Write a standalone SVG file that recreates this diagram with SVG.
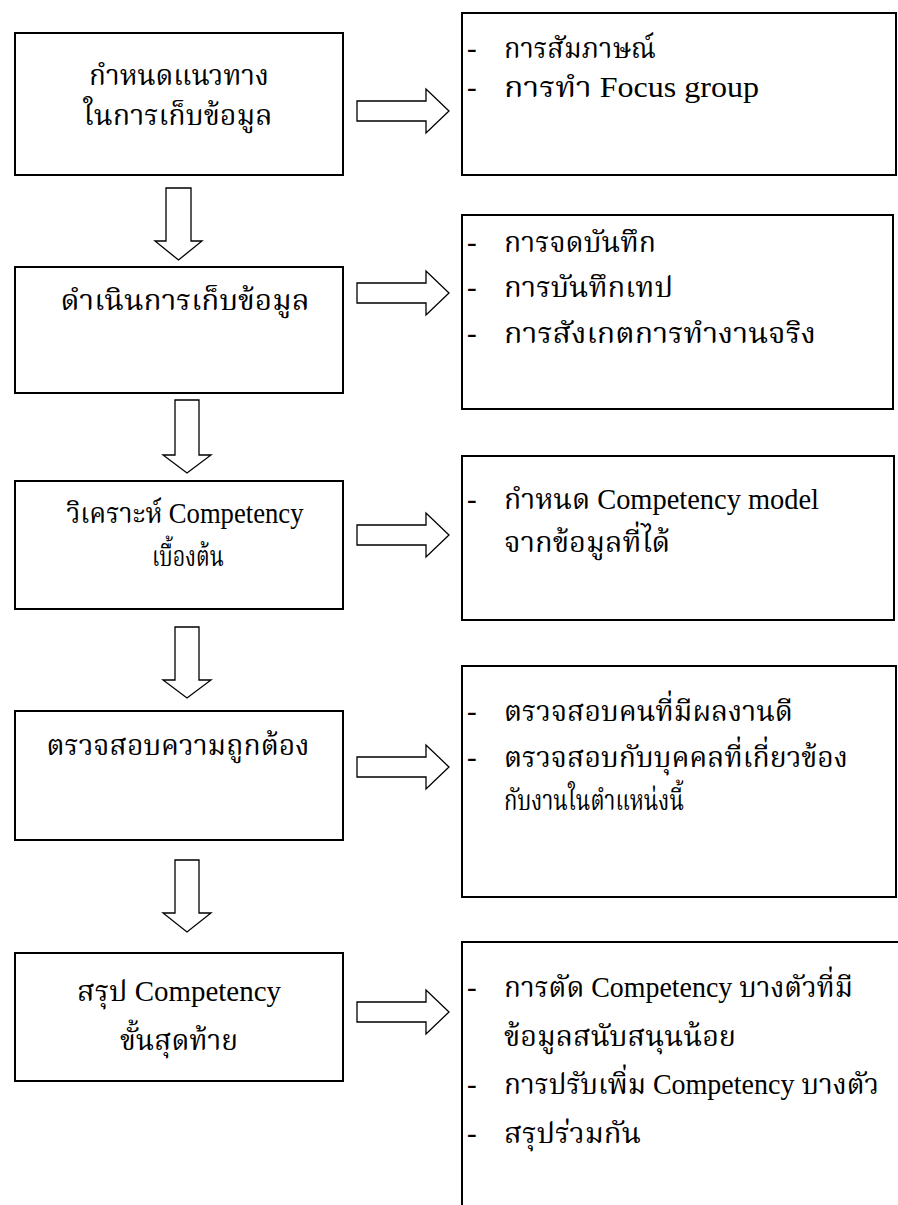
<svg xmlns="http://www.w3.org/2000/svg" width="898" height="1205" viewBox="0 0 898 1205">
  <style>
    .box { fill: #ffffff; stroke: #000000; stroke-width: 2; }
    .open { fill: none; stroke: #000000; stroke-width: 2; }
    .arrow { fill: #ffffff; stroke: #000000; stroke-width: 1.3; stroke-linejoin: miter; }
    text { font-family: "Liberation Serif", "Noto Serif Thai", "Noto Sans Thai", serif; font-size: 29px; fill: #000000; }
    .c { text-anchor: middle; }
  </style>
  <rect width="898" height="1205" fill="#ffffff"/>

  <!-- connectors: hollow block arrows -->
  <g id="connectors">
    <polygon class="arrow" points="357,101 426,101 426,89 449,111 426,133 426,121 357,121"/>
    <polygon class="arrow" points="357,283 426,283 426,271 449,293 426,315 426,303 357,303"/>
    <polygon class="arrow" points="357,525 426,525 426,513 449,535 426,557 426,545 357,545"/>
    <polygon class="arrow" points="357,757 426,757 426,745 449,767 426,789 426,777 357,777"/>
    <polygon class="arrow" points="357,1002 426,1002 426,990 449,1012 426,1034 426,1022 357,1022"/>

    <polygon class="arrow" points="166,188 191,188 191,241 202,241 178.5,260 155,241 166,241"/>
    <polygon class="arrow" points="175,400 199,400 199,455 211,455 187,473 163,455 175,455"/>
    <polygon class="arrow" points="175,627 199,627 199,680 211,680 187,698 163,680 175,680"/>
    <polygon class="arrow" points="175,860 199,860 199,913 211,913 187,932 163,913 175,913"/>
  </g>

  <!-- step boxes (left column) -->
  <g id="step1">
    <rect class="box" x="15" y="33" width="328" height="142"/>
    <text class="c" x="179" y="85" textLength="180" lengthAdjust="spacingAndGlyphs">กำหนดแนวทาง</text>
    <text class="c" x="178" y="125" textLength="189" lengthAdjust="spacingAndGlyphs">ในการเก็บข้อมูล</text>
  </g>
  <g id="step2">
    <rect class="box" x="15" y="267" width="328" height="126"/>
    <text class="c" x="185" y="310" textLength="249" lengthAdjust="spacingAndGlyphs">ดำเนินการเก็บข้อมูล</text>
  </g>
  <g id="step3">
    <rect class="box" x="15" y="481" width="328" height="128"/>
    <text class="c" x="185" y="523" textLength="237" lengthAdjust="spacingAndGlyphs">วิเคราะห์ Competency</text>
    <text class="c" x="188" y="566" textLength="72" lengthAdjust="spacingAndGlyphs">เบื้องต้น</text>
  </g>
  <g id="step4">
    <rect class="box" x="15" y="711" width="328" height="129"/>
    <text class="c" x="178" y="755" textLength="263" lengthAdjust="spacingAndGlyphs">ตรวจสอบความถูกต้อง</text>
  </g>
  <g id="step5">
    <rect class="box" x="15" y="953" width="328" height="128"/>
    <text class="c" x="179" y="1001" textLength="204" lengthAdjust="spacingAndGlyphs">สรุป Competency</text>
    <text class="c" x="179" y="1050" textLength="118" lengthAdjust="spacingAndGlyphs">ขั้นสุดท้าย</text>
  </g>

  <!-- detail boxes (right column) -->
  <g id="detail1">
    <rect class="box" x="462" y="13" width="434" height="162"/>
    <text y="58"><tspan x="467">-</tspan><tspan x="504" textLength="152" lengthAdjust="spacingAndGlyphs">การสัมภาษณ์</tspan></text>
    <text y="97"><tspan x="467">-</tspan><tspan x="504" textLength="255" lengthAdjust="spacingAndGlyphs">การทำ Focus group</tspan></text>
  </g>
  <g id="detail2">
    <rect class="box" x="462" y="215" width="431" height="194"/>
    <text y="252"><tspan x="467">-</tspan><tspan x="504" textLength="152" lengthAdjust="spacingAndGlyphs">การจดบันทึก</tspan></text>
    <text y="297"><tspan x="467">-</tspan><tspan x="504" textLength="169" lengthAdjust="spacingAndGlyphs">การบันทึกเทป</tspan></text>
    <text y="343"><tspan x="467">-</tspan><tspan x="504" textLength="312" lengthAdjust="spacingAndGlyphs">การสังเกตการทำงานจริง</tspan></text>
  </g>
  <g id="detail3">
    <rect class="box" x="462" y="456" width="432" height="164"/>
    <text y="509"><tspan x="467">-</tspan><tspan x="504" textLength="315" lengthAdjust="spacingAndGlyphs">กำหนด Competency model</tspan></text>
    <text x="504" y="552" textLength="166" lengthAdjust="spacingAndGlyphs">จากข้อมูลที่ได้</text>
  </g>
  <g id="detail4">
    <rect class="box" x="462" y="666" width="434" height="231"/>
    <text y="721"><tspan x="467">-</tspan><tspan x="504" textLength="289" lengthAdjust="spacingAndGlyphs">ตรวจสอบคนที่มีผลงานดี</tspan></text>
    <text y="767"><tspan x="467">-</tspan><tspan x="504" textLength="344" lengthAdjust="spacingAndGlyphs">ตรวจสอบกับบุคคลที่เกี่ยวข้อง</tspan></text>
    <text x="504" y="810" textLength="180" lengthAdjust="spacingAndGlyphs">กับงานในตำแหน่งนี้</text>
  </g>
  <g id="detail5">
    <path class="open" d="M898,942 H462 V1205"/>
    <text y="997"><tspan x="467">-</tspan><tspan x="504" textLength="349" lengthAdjust="spacingAndGlyphs">การตัด Competency บางตัวที่มี</tspan></text>
    <text x="504" y="1046" textLength="232" lengthAdjust="spacingAndGlyphs">ข้อมูลสนับสนุนน้อย</text>
    <text y="1094"><tspan x="467">-</tspan><tspan x="504" textLength="375" lengthAdjust="spacingAndGlyphs">การปรับเพิ่ม Competency บางตัว</tspan></text>
    <text y="1143"><tspan x="467">-</tspan><tspan x="504" textLength="137" lengthAdjust="spacingAndGlyphs">สรุปร่วมกัน</tspan></text>
  </g>
</svg>
